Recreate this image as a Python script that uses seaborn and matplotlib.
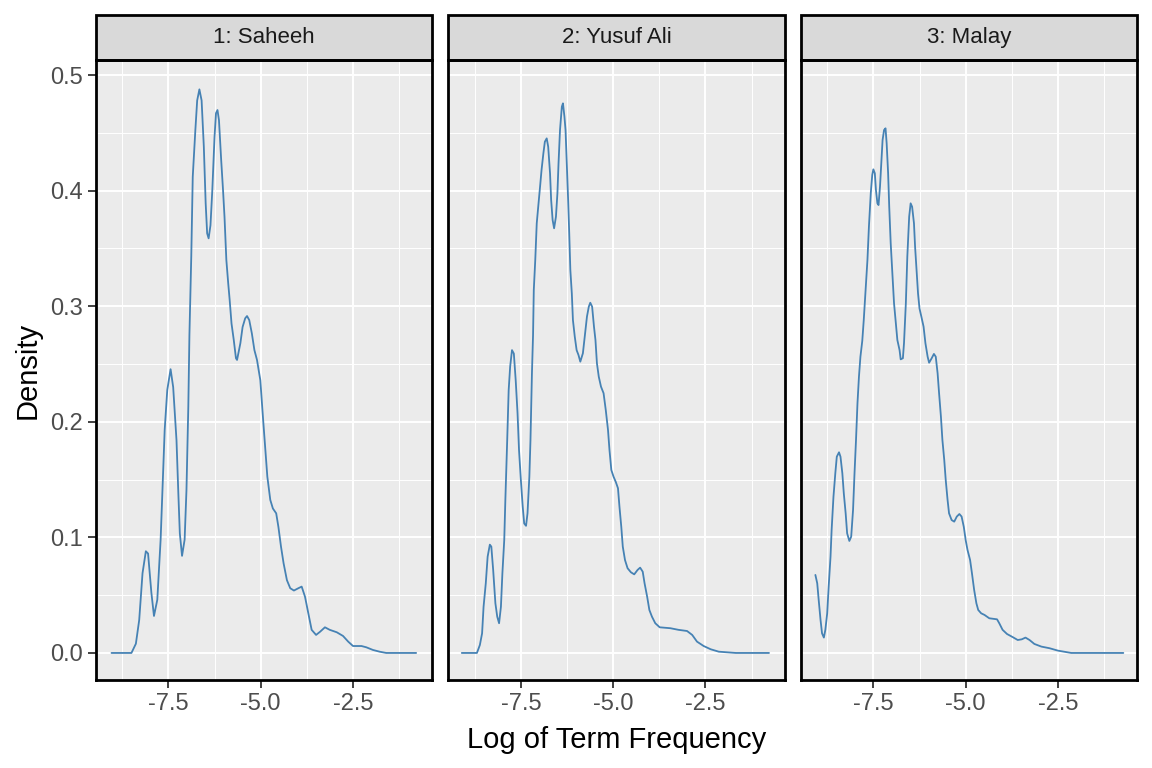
import pandas as pd
import matplotlib
matplotlib.use("Agg")
import matplotlib.pyplot as plt
import seaborn as sns
from matplotlib.patches import Rectangle
from matplotlib.ticker import FixedLocator

translations = ["1: Saheeh", "2: Yusuf Ali", "3: Malay"]

# density curves (x = log term frequency)
saheeh_x = [-9.04, -8.50, -8.38, -8.29, -8.20, -8.11, -8.05, -7.96, -7.89, -7.80, -7.71, -7.66,
            -7.60, -7.53, -7.44, -7.37, -7.28, -7.23, -7.19, -7.13, -7.06, -7.01, -6.96, -6.93,
            -6.88, -6.84, -6.77, -6.72, -6.66, -6.60, -6.54, -6.49, -6.45, -6.41, -6.36, -6.31,
            -6.25, -6.21, -6.17, -6.13, -6.07, -6.02, -5.98, -5.93, -5.88, -5.84, -5.79, -5.73,
            -5.67, -5.64, -5.55, -5.49, -5.42, -5.37, -5.31, -5.24, -5.17, -5.10, -5.01, -4.94,
            -4.88, -4.82, -4.74, -4.67, -4.58, -4.52, -4.45, -4.38, -4.29, -4.20, -4.10, -3.98,
            -3.89, -3.80, -3.71, -3.62, -3.50, -3.39, -3.26, -3.13, -2.94, -2.77, -2.63, -2.50,
            -2.27, -2.14, -1.96, -1.78, -1.60, -0.79]
saheeh_y = [0, 0, 0.008, 0.0285, 0.069, 0.088, 0.086, 0.052, 0.032, 0.046, 0.098, 0.141,
            0.193, 0.2275, 0.2455, 0.230, 0.184, 0.138, 0.1035, 0.084, 0.098, 0.141, 0.213, 0.275,
            0.343, 0.412, 0.452, 0.478, 0.4876, 0.478, 0.438, 0.389, 0.363, 0.3587, 0.370, 0.4005,
            0.4466, 0.467, 0.4697, 0.461, 0.4265, 0.4005, 0.3774, 0.340, 0.320, 0.3054, 0.285, 0.271,
            0.255, 0.2535, 0.268, 0.282, 0.2895, 0.2915, 0.288, 0.2766, 0.262, 0.2535, 0.236, 0.2044,
            0.1785, 0.1525, 0.1324, 0.125, 0.1208, 0.109, 0.092, 0.0776, 0.063, 0.056, 0.054, 0.056,
            0.0574, 0.0487, 0.0343, 0.020, 0.0156, 0.0184, 0.0222, 0.020, 0.0179, 0.0147, 0.0098, 0.006,
            0.006, 0.0049, 0.0026, 0.0011, 0, 0]

yusuf_x = [-9.10, -8.69, -8.61, -8.55, -8.51, -8.45, -8.40, -8.34, -8.30, -8.25, -8.19, -8.14,
           -8.09, -8.04, -8.00, -7.95, -7.92, -7.87, -7.83, -7.79, -7.74, -7.69, -7.64, -7.59,
           -7.55, -7.50, -7.45, -7.41, -7.36, -7.32, -7.27, -7.24, -7.20, -7.17, -7.15, -7.11,
           -7.07, -7.03, -6.98, -6.94, -6.89, -6.85, -6.80, -6.76, -6.71, -6.68, -6.64, -6.60,
           -6.55, -6.51, -6.48, -6.44, -6.39, -6.36, -6.32, -6.29, -6.26, -6.22, -6.19, -6.16,
           -6.12, -6.09, -6.04, -5.99, -5.94, -5.89, -5.82, -5.76, -5.71, -5.66, -5.62, -5.57,
           -5.52, -5.48, -5.44, -5.39, -5.33, -5.26, -5.20, -5.14, -5.10, -5.05, -4.99, -4.93,
           -4.87, -4.83, -4.78, -4.74, -4.68, -4.61, -4.52, -4.43, -4.34, -4.27, -4.20, -4.15,
           -4.08, -4.02, -3.95, -3.86, -3.74, -3.45, -3.23, -3.00, -2.86, -2.73, -2.55, -2.36,
           -2.14, -1.68, -0.78]
yusuf_y = [0, 0, 0.0069, 0.017, 0.040, 0.0603, 0.0833, 0.0937, 0.092, 0.0718, 0.043, 0.0314,
           0.0257, 0.040, 0.069, 0.0977, 0.1324, 0.184, 0.2275, 0.2477, 0.262, 0.259, 0.236, 0.2074,
           0.1756, 0.1497, 0.1266, 0.112, 0.110, 0.1208, 0.1525, 0.184, 0.242, 0.275, 0.314, 0.340,
           0.3717, 0.386, 0.4034, 0.4178, 0.4323, 0.4423, 0.4452, 0.438, 0.415, 0.392, 0.3746, 0.3674,
           0.3774, 0.3977, 0.4236, 0.4524, 0.4726, 0.4755, 0.464, 0.4524, 0.4265, 0.392, 0.363, 0.3313,
           0.311, 0.288, 0.2736, 0.262, 0.2578, 0.252, 0.2593, 0.2766, 0.291, 0.2996, 0.303, 0.2996,
           0.2823, 0.2708, 0.2506, 0.239, 0.2304, 0.2247, 0.210, 0.1929, 0.1756, 0.1583, 0.1525, 0.148,
           0.1425, 0.1266, 0.109, 0.092, 0.0804, 0.0733, 0.0698, 0.068, 0.0718, 0.0738, 0.0703, 0.0603,
           0.0487, 0.0372, 0.0314, 0.0257, 0.0222, 0.0214, 0.020, 0.019, 0.0156, 0.0098, 0.006, 0.0032,
           0.0011, 0, 0]

malay_x = [-9.07, -9.02, -8.98, -8.93, -8.89, -8.84, -8.80, -8.75, -8.71, -8.66, -8.63, -8.58,
           -8.53, -8.49, -8.43, -8.39, -8.34, -8.30, -8.25, -8.21, -8.15, -8.10, -8.05, -8.01,
           -7.97, -7.93, -7.89, -7.85, -7.80, -7.76, -7.71, -7.66, -7.62, -7.57, -7.53, -7.50,
           -7.46, -7.43, -7.39, -7.36, -7.32, -7.28, -7.25, -7.21, -7.17, -7.14, -7.10, -7.07,
           -7.03, -6.98, -6.94, -6.89, -6.85, -6.79, -6.76, -6.70, -6.67, -6.62, -6.58, -6.53,
           -6.49, -6.45, -6.40, -6.37, -6.33, -6.29, -6.25, -6.20, -6.14, -6.09, -6.03, -5.99,
           -5.92, -5.86, -5.81, -5.76, -5.72, -5.67, -5.63, -5.58, -5.54, -5.49, -5.45, -5.38,
           -5.31, -5.24, -5.17, -5.11, -5.05, -5.00, -4.95, -4.88, -4.83, -4.77, -4.71, -4.66,
           -4.58, -4.49, -4.36, -4.15, -4.09, -4.00, -3.88, -3.72, -3.59, -3.48, -3.38, -3.27,
           -3.14, -2.95, -2.73, -2.50, -2.14, -0.73]
malay_y = [0.0675, 0.0603, 0.0458, 0.0285, 0.017, 0.0133, 0.020, 0.0343, 0.0574, 0.0833, 0.1064, 0.1352,
           0.1555, 0.1698, 0.1736, 0.1698, 0.1555, 0.138, 0.1208, 0.1035, 0.0969, 0.1006, 0.1237, 0.1555,
           0.184, 0.216, 0.239, 0.2563, 0.270, 0.288, 0.314, 0.340, 0.3688, 0.3977, 0.4135, 0.4184,
           0.415, 0.4005, 0.389, 0.3875, 0.4034, 0.4265, 0.4438, 0.4524, 0.4539, 0.441, 0.415, 0.386,
           0.3544, 0.3255, 0.3025, 0.285, 0.2708, 0.262, 0.254, 0.255, 0.268, 0.3025, 0.343, 0.3774,
           0.389, 0.386, 0.3717, 0.3515, 0.3313, 0.311, 0.298, 0.291, 0.2823, 0.268, 0.2563, 0.2511,
           0.255, 0.2587, 0.2563, 0.242, 0.2247, 0.2044, 0.1843, 0.167, 0.1497, 0.1324, 0.1208, 0.115,
           0.1136, 0.118, 0.1202, 0.118, 0.109, 0.0977, 0.0891, 0.0804, 0.069, 0.0545, 0.043, 0.0372,
           0.0343, 0.0329, 0.030, 0.0291, 0.0257, 0.020, 0.0164, 0.0136, 0.0112, 0.0118, 0.0133, 0.0112,
           0.0078, 0.0055, 0.0041, 0.002, 0, 0]

x_ticks = [-7.5, -5.0, -2.5]
x_minor = [-8.75, -6.25, -3.75, -1.25]
y_ticks = [0.0, 0.1, 0.2, 0.3, 0.4, 0.5]
y_minor = [0.05, 0.15, 0.25, 0.35, 0.45]

frames = []
for name, xs, ys in zip(translations, [saheeh_x, yusuf_x, malay_x], [saheeh_y, yusuf_y, malay_y]):
    frames.append(pd.DataFrame({"translation": name, "log_tf": xs, "density": ys}))
df = pd.concat(frames, ignore_index=True)

sns.set_style("darkgrid", {"axes.facecolor": "#EBEBEB", "grid.color": "white"})
plt.rcParams["font.family"] = ["Liberation Sans", "DejaVu Sans"]

g = sns.FacetGrid(df, col="translation", col_order=translations, sharex=True, sharey=True,
                  height=7.68, aspect=0.5, despine=False)
g.map_dataframe(sns.lineplot, x="log_tf", y="density", color="#4682B4",
                linewidth=1.3, estimator=None)
g.set_titles("")
g.set_axis_labels("", "")

fig = g.figure
fig.set_size_inches(11.52, 7.68)

strip_h = 45 / 620
for i, (ax, name) in enumerate(zip(g.axes.flat, translations)):
    ax.set_xlim(-9.46, -0.36)
    ax.set_ylim(-0.0234, 0.513)
    ax.xaxis.set_major_locator(FixedLocator(x_ticks))
    ax.xaxis.set_minor_locator(FixedLocator(x_minor))
    ax.yaxis.set_major_locator(FixedLocator(y_ticks))
    ax.yaxis.set_minor_locator(FixedLocator(y_minor))
    ax.set_xticklabels(["-7.5", "-5.0", "-2.5"])
    ax.grid(which="major", color="white", linewidth=1.4)
    ax.grid(which="minor", color="white", linewidth=0.7)
    ax.set_axisbelow(True)
    ax.tick_params(which="minor", length=0)
    ax.tick_params(which="major", length=5.5, width=1.3, color="#333333",
                   labelsize=17, labelcolor="#4D4D4D", pad=4)
    ax.tick_params(axis="x", bottom=True)
    if i == 0:
        ax.set_yticklabels(["0.0", "0.1", "0.2", "0.3", "0.4", "0.5"])
        ax.tick_params(axis="y", left=True)
    else:
        ax.tick_params(axis="y", left=False, labelleft=False)
    for sp in ax.spines.values():
        sp.set_color("black")
        sp.set_linewidth(2.0)
        sp.set_visible(True)
    ax.set_xlabel("")
    ax.set_ylabel("")
    rect = Rectangle((0, 1), 1, strip_h, transform=ax.transAxes, facecolor="#D9D9D9",
                     edgecolor="black", linewidth=2.0, clip_on=False)
    ax.add_patch(rect)
    ax.text(0.5, 1 + strip_h / 2, name, transform=ax.transAxes, ha="center", va="center",
            fontsize=16, color="#1A1A1A")

fig.subplots_adjust(left=96 / 1152, right=1137 / 1152, bottom=1 - 680 / 768,
                    top=1 - 60 / 768, wspace=0.049)
fig.text(616.5 / 1152, 1 - 740 / 768, "Log of Term Frequency", ha="center", va="center",
         fontsize=21, color="black")
fig.text(28 / 1152, 1 - 370 / 768, "Density", ha="center", va="center", rotation=90,
         fontsize=21, color="black")

fig.savefig("out.png", dpi=100)
